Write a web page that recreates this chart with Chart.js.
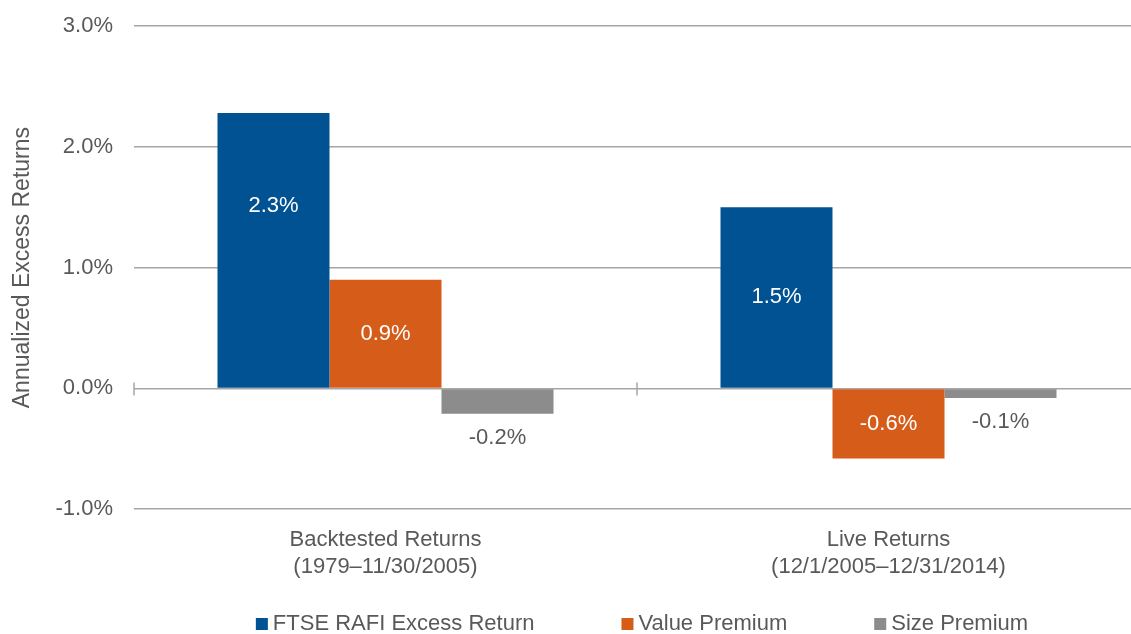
<!DOCTYPE html>
<html>
<head>
<meta charset="utf-8">
<script src="https://cdn.jsdelivr.net/npm/chart.js@4"></script>
<style>
  html, body { margin: 0; padding: 0; background: #fff; overflow: hidden; }
  #wrap { width: 1140px; height: 634px; }
</style>
</head>
<body>
<div id="wrap"><canvas id="chart"></canvas></div>
<script>
const categories = [
  ['Backtested Returns', '(1979\u201311/30/2005)'],
  ['Live Returns', '(12/1/2005\u201312/31/2014)']
];
const seriesNames = ['FTSE RAFI Excess Return', 'Value Premium', 'Size Premium'];
const rafiExcess = [2.28, 1.50];
const valuePremium = [0.90, -0.58];
const sizePremium = [-0.21, -0.08];
const yTicks = [-1, 0, 1, 2, 3];

const colors = ['#005293', '#D65C1A', '#8C8C8C'];
const textGray = '#595959';
const gridGray = '#A6A6A6';
const FONT = '"Liberation Sans", Arial, sans-serif';

// value labels: white inside the blue/orange bars, gray under the size bars
const barLabels = {
  id: 'barLabels',
  afterDatasetsDraw(chart) {
    const ctx = chart.ctx;
    ctx.save();
    ctx.font = '22px ' + FONT;
    ctx.textAlign = 'center';
    ctx.textBaseline = 'middle';
    chart.data.datasets.forEach((ds, di) => {
      chart.getDatasetMeta(di).data.forEach((bar, i) => {
        const v = ds.data[i];
        const txt = v.toFixed(1) + '%';
        const top = Math.min(bar.y, bar.base);
        const bottom = Math.max(bar.y, bar.base);
        let y;
        if (di === 2) {
          ctx.fillStyle = textGray;
          y = bottom + 24;
        } else {
          ctx.fillStyle = '#fff';
          y = v > 0 ? top + Math.min((bottom - top) / 2, 93) : (top + bottom) / 2;
        }
        ctx.fillText(txt, bar.x, y);
      });
    });
    ctx.restore();
  }
};

// small cross ticks on the zero line at the category boundaries
const zeroTicks = {
  id: 'zeroTicks',
  afterDatasetsDraw(chart) {
    const x = chart.scales.x, y = chart.scales.y;
    const y0 = y.getPixelForValue(0);
    const half = (x.getPixelForValue(1) - x.getPixelForValue(0)) / 2;
    const ctx = chart.ctx;
    ctx.save();
    ctx.strokeStyle = gridGray;
    ctx.lineWidth = 1.5;
    for (let i = 0; i <= categories.length; i++) {
      const px = Math.round(x.getPixelForValue(0) - half + i * half * 2);
      ctx.beginPath();
      ctx.moveTo(px, y0 - 6);
      ctx.lineTo(px, y0 + 7);
      ctx.stroke();
    }
    ctx.restore();
  }
};

// legend along the bottom, drawn from the dataset names and colours
const bottomLegend = {
  id: 'bottomLegend',
  afterDraw(chart) {
    const ctx = chart.ctx;
    const area = chart.chartArea;
    ctx.save();
    ctx.font = '22px ' + FONT;
    ctx.textBaseline = 'middle';
    const box = 12, gap = 5, spacing = 87;
    const widths = chart.data.datasets.map(ds => box + gap + ctx.measureText(ds.label).width);
    const total = widths.reduce((a, b) => a + b, 0) + spacing * (widths.length - 1);
    let x = (area.left + area.right) / 2 + 5 - total / 2;
    const cy = 624;
    chart.data.datasets.forEach((ds, i) => {
      ctx.fillStyle = ds.backgroundColor;
      ctx.fillRect(x, cy - 6, box, box);
      ctx.fillStyle = textGray;
      ctx.textAlign = 'left';
      ctx.fillText(ds.label, x + box + gap, cy);
      x += widths[i] + spacing;
    });
    ctx.restore();
  }
};

new Chart(document.getElementById('chart'), {
  type: 'bar',
  data: {
    labels: categories,
    datasets: [
      { label: seriesNames[0], data: rafiExcess, backgroundColor: colors[0] },
      { label: seriesNames[1], data: valuePremium, backgroundColor: colors[1] },
      { label: seriesNames[2], data: sizePremium, backgroundColor: colors[2] }
    ]
  },
  options: {
    responsive: true,
    maintainAspectRatio: false,
    animation: false,
    categoryPercentage: 0.668,
    barPercentage: 1.0,
    layout: { padding: { top: 26, bottom: 44, right: 0, left: 0 } },
    plugins: {
      legend: { display: false },
      tooltip: { enabled: false }
    },
    scales: {
      x: {
        grid: { display: false },
        border: { display: false },
        ticks: {
          color: textGray,
          font: { family: FONT, size: 22 },
          padding: 10,
          maxRotation: 0
        }
      },
      y: {
        min: -1,
        max: 3,
        afterBuildTicks(scale) {
          scale.ticks = yTicks.map(v => ({ value: v }));
        },
        afterFit(scale) {
          scale.width = 134;
          scale.paddingTop = 0;
          scale.paddingBottom = 0;
        },
        grid: { color: gridGray, lineWidth: 1.5, drawTicks: false },
        border: { display: false },
        ticks: {
          color: textGray,
          font: { family: FONT, size: 22 },
          padding: 21,
          callback: v => v.toFixed(1) + '%'
        },
        title: {
          display: true,
          text: 'Annualized Excess Returns',
          color: textGray,
          font: { family: FONT, size: 23 },
          padding: { top: 9, bottom: 10 }
        }
      }
    }
  },
  plugins: [barLabels, zeroTicks, bottomLegend]
});
</script>
</body>
</html>
